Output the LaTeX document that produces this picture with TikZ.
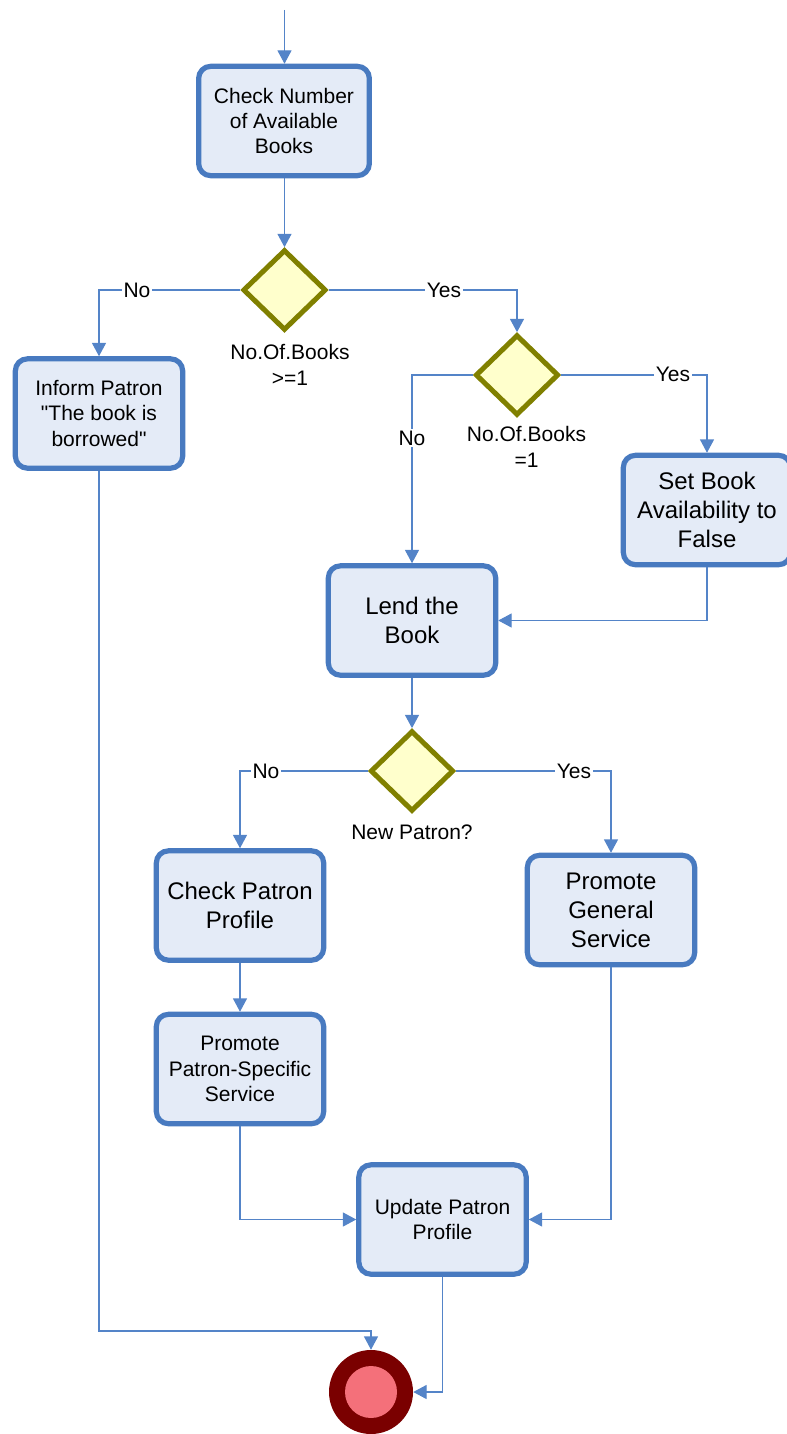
\documentclass[tikz,border=0pt]{standalone}
\usepackage{fontspec}
\setmainfont{Liberation Sans}
\usetikzlibrary{shapes.geometric,arrows.meta}
\definecolor{boxline}{RGB}{72,122,192}
\definecolor{boxfill}{RGB}{228,235,247}
\definecolor{wire}{RGB}{84,132,200}
\definecolor{decline}{RGB}{128,128,0}
\definecolor{decfill}{RGB}{255,255,204}
\definecolor{endring}{RGB}{122,0,0}
\definecolor{endcore}{RGB}{244,112,122}

\begin{document}
\begin{tikzpicture}[x=0.75pt,y=-0.75pt,
  smalltext/.style={font=\fontsize{15.75}{19}\selectfont},
  bigtext/.style={font=\fontsize{18}{21.75}\selectfont},
  action/.style={draw=boxline, fill=boxfill, line width=3.9pt,
    rounded corners=9pt, minimum width=125.5pt, minimum height=82pt,
    align=center, inner sep=2pt},
  decision/.style={diamond, draw=decline, fill=decfill, line width=3.75pt,
    minimum width=62.5pt, minimum height=60.5pt, inner sep=0pt, aspect=1},
  caption/.style={smalltext, align=center, inner sep=0pt},
  tag/.style={smalltext, fill=white, inner sep=1.5pt},
  flow/.style={draw=wire, line width=0.9pt,
    -{Triangle[length=10pt,width=10.5pt]}}]

\useasboundingbox (0,0) rectangle (787,1434);

% activities
\node[action, smalltext, minimum width=128pt] (check) at (284,121) {Check Number\\of Available\\Books};
\node[action, smalltext] (inform)  at (99,413.5)   {Inform Patron\\\textquotedbl The book is\\borrowed\textquotedbl};
\node[action, bigtext]   (setfalse) at (707,510)   {Set Book\\Availability to\\False};
\node[action, bigtext]   (lend)    at (412,620.5)  {Lend the\\Book};
\node[action, bigtext]   (profile) at (240,905.5)  {Check Patron\\Profile};
\node[action, bigtext]   (general) at (611,910)    {Promote\\General\\Service};
\node[action, smalltext] (specific) at (240,1069)  {Promote\\Patron-Specific\\Service};
\node[action, smalltext] (update)  at (442.5,1219.5) {Update Patron\\Profile};

% decisions
\node[decision] (d1) at (284.5,290) {};
\node[decision] (d2) at (517,375) {};
\node[decision] (d3) at (412,771) {};
\node[caption] (c1) at (290,365)   {No.Of.Books\\>=1};
\node[caption] (c2) at (526.5,447) {No.Of.Books\\=1};
\node[caption] (c3) at (412,832)   {New Patron?};

% final state
\node[circle, fill=endring, minimum size=63pt, inner sep=0pt] (final) at (371,1392) {};
\node[circle, fill=endcore, minimum size=39pt, inner sep=0pt] (finalcore) at (final) {};

% connectors
\coordinate (start) at (284.5,10);
\coordinate (join) at (371,1331);
\draw[flow] (start) -- (start |- check.north);
\draw[flow] (check.south -| d1.north) -- (d1.north);
\draw[flow] (d1.west) -| (inform.north);
\draw[flow] (d1.east) -| (d2.north);
\draw[flow] (d2.west) -| (lend.north);
\draw[flow] (d2.east) -| (setfalse.north);
\draw[flow] (setfalse.south) |- (lend.east);
\draw[flow] (lend.south) -- (d3.north);
\draw[flow] (d3.west) -| (profile.north);
\draw[flow] (d3.east) -| (general.north);
\draw[flow] (profile.south) -- (specific.north);
\draw[flow] (specific.south) |- (update.west);
\draw[flow] (general.south) |- (update.east);
\draw[flow] (update.south) |- (final.east);
\draw[flow] (inform.south) |- (join) -- (final.north);

% branch labels
\node[tag] (n1) at (137,290) {No};
\node[tag] (y1) at (444,290) {Yes};
\node[tag] (n2) at (412,438) {No};
\node[tag] (y2) at (673,374) {Yes};
\node[tag] (n3) at (266,771) {No};
\node[tag] (y3) at (574,771) {Yes};
\end{tikzpicture}
\end{document}
